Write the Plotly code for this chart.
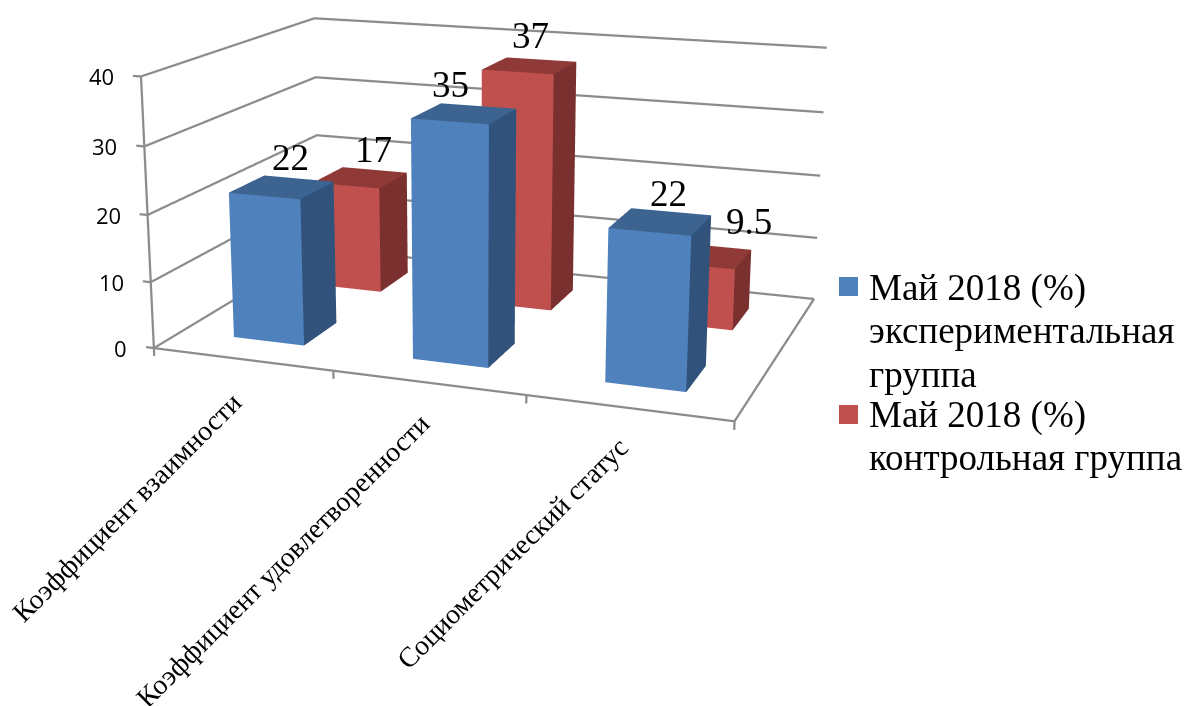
import plotly.graph_objects as go

categories = ["Коэффициент взаимности", "Коэффициент удовлетворенности", "Социометрический статус"]
legend_lines = [["Май 2018 (%)", "экспериментальная", "группа"], ["Май 2018 (%)", "контрольная группа"]]
exp_vals = [22, 35, 22]
ctl_vals = [17, 37, 9.5]
z_ticks = [0, 10, 20, 30, 40]

# Scene ranges and camera (Excel's long-lens view needs a scene taller than the window)
xr = [-0.2, 3.05]
yr = [-0.05, 2.05]
zr = [-2, 41]
ASPECT = dict(x=1, y=0.64925, z=0.46324)
EYE = dict(x=0.98906, y=-2.74448, z=0.72962)
CENTER = dict(x=0.10020, y=-0.33628, z=0.02308)
UP = dict(x=0.00052, y=0, z=1)
CX = 470.61072
HF = 1549
OFF = 534


def py(v):
    return 1 - (v + OFF) / HF


GRAY = "#8C8C8C"
SERIF = "Liberation Serif"
blue = ("#4F81BD", "#3D6491", "#31527A")
red = ("#C0504D", "#8F3A37", "#7A302E")

fig = go.Figure()


def line(x, y, z):
    fig.add_trace(go.Scatter3d(x=x, y=y, z=z, mode="lines", line=dict(color=GRAY, width=4.5),
                               showlegend=False, hoverinfo="skip"))


line([0, 0], [0, 0], [0, 40])
for lvl in z_ticks:
    line([-.045, 0, 0, 3], [0, 0, 2, 2], [lvl] * 4)
line([0, 0, 3, 3], [2, 0, 0, 2], [0, 0, 0, 0])
for tk in range(4):
    line([tk, tk], [0, 0], [0, -1.2])


def box(i, sidx, h, cols, name):
    x0, x1, y0, y1 = i + .3, i + .7, sidx + .3, sidx + .7
    X = [x0, x1, x1, x0, x0, x1, x1, x0]
    Y = [y0, y0, y1, y1, y0, y0, y1, y1]
    Z = [0, 0, 0, 0, h, h, h, h]
    I = [0, 0, 1, 1, 4, 4]
    J = [1, 5, 2, 6, 5, 6]
    K = [5, 4, 6, 5, 6, 7]
    fc = [cols[0]] * 2 + [cols[2]] * 2 + [cols[1]] * 2
    return go.Mesh3d(x=X, y=Y, z=Z, i=I, j=J, k=K, facecolor=fc, flatshading=True, showlegend=False,
                     name=name, hoverinfo="skip",
                     lighting=dict(ambient=1, diffuse=0, specular=0, roughness=1, fresnel=0))


for i, (a, b) in enumerate(zip(exp_vals, ctl_vals)):
    fig.add_trace(box(i, 1, b, red, " ".join(legend_lines[1])))
    fig.add_trace(box(i, 0, a, blue, " ".join(legend_lines[0])))

ann = []
for v in z_ticks:
    ann.append(dict(x=0, y=0, z=v, text=str(v), showarrow=False, xanchor="right", yanchor="middle", xshift=-25,
                    font=dict(family="Open Sans", size=22, color="black")))
cat_shift = [(8, -25), (10, -22), (8, -21)]
for i, c in enumerate(categories):
    ann.append(dict(x=i + .5, y=0, z=0, text=c, textangle=-45, showarrow=False, xanchor="right", yanchor="top",
                    xshift=cat_shift[i][0], yshift=cat_shift[i][1],
                    font=dict(family=SERIF, size=28, color="black")))
lab_shift = [(9, 30), (13, 28), (-14, 29), (1, 30), (8, 28), (43, 34)]
k = 0
for i in range(3):
    for s, v in enumerate((exp_vals[i], ctl_vals[i])):
        ann.append(dict(x=i + .5, y=s + .5, z=v, text=str(v), showarrow=False,
                        xshift=lab_shift[k][0], yshift=lab_shift[k][1],
                        font=dict(family=SERIF, size=37, color="black")))
        k += 1

lg = []
shapes = []
ys = [288, 330, 374, 415, 457]
n = 0
for grp, col, sy in zip(legend_lines, [blue[0], red[0]], [277, 405]):
    shapes.append(dict(type="rect", xref="paper", yref="paper", x0=839 / 1184, x1=858 / 1184,
                       y0=py(sy + 19), y1=py(sy), fillcolor=col, line=dict(width=0)))
    for t in grp:
        lg.append(dict(xref="paper", yref="paper", x=867 / 1184, y=py(ys[n]), text=t, showarrow=False,
                       xanchor="left", yanchor="middle", font=dict(family=SERIF, size=37, color="black")))
        n += 1

fig.update_layout(
    width=1184, height=HF, margin=dict(l=0, r=0, t=0, b=0), paper_bgcolor="white", showlegend=False,
    annotations=lg, shapes=shapes,
    scene=dict(domain=dict(x=[0, 2 * CX / 1184], y=[0, 1]),
               xaxis=dict(visible=False, range=xr), yaxis=dict(visible=False, range=yr),
               zaxis=dict(visible=False, range=zr),
               aspectmode="manual", aspectratio=ASPECT, annotations=ann,
               camera=dict(eye=EYE, center=CENTER, up=UP, projection=dict(type="perspective"))))
fig.write_html("out.html", config={"displayModeBar": False},
               post_script=f"document.body.style.margin='0';document.documentElement.style.overflow='hidden';"
                           f"document.querySelector('.plotly-graph-div').style.marginTop='-{OFF}px';")
